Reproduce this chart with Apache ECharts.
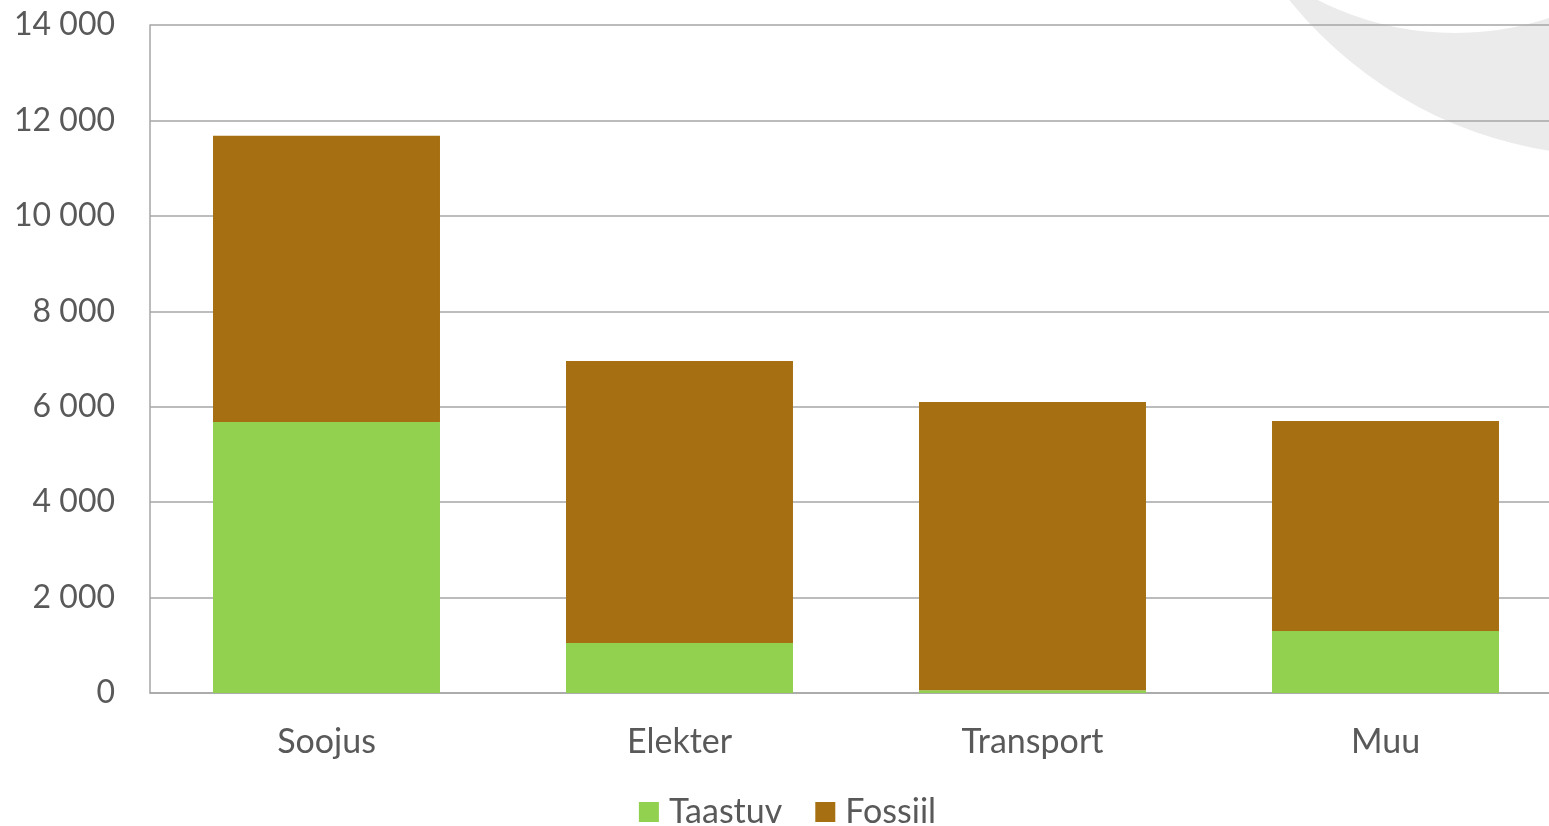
<!DOCTYPE html>
<html>
<head>
<meta charset="utf-8">
<script src="https://cdn.jsdelivr.net/npm/echarts@6/dist/echarts.min.js"></script>
<style>
  html, body { margin: 0; padding: 0; background: #ffffff; overflow: hidden; }
  /* the drawing surface runs a little past the right edge of the window */
  #chart { width: 1575px; height: 826px; }
</style>
</head>
<body>
<div id="chart"></div>
<script>
// Energy use by sector, split into renewable and fossil sources
const categories = ['Soojus', 'Elekter', 'Transport', 'Muu'];
const taastuv = [5680, 1050, 60, 1300];
const fossiil = [6000, 5910, 6040, 4400];
const seriesNames = ['Taastuv', 'Fossiil'];

const FONT = 'Lato, "Open Sans", sans-serif';
const TEXT = '#595959';

const chart = echarts.init(document.getElementById('chart'), null, { renderer: 'canvas' });

chart.setOption({
  backgroundColor: '#ffffff',
  animation: false,
  // decorative crescent in the top-right corner, behind the plot
  graphic: [
    {
      type: 'circle', z: -20, silent: true,
      shape: { cx: 1615, cy: -262, r: 418 },
      style: { fill: '#ebebeb' }
    },
    {
      type: 'circle', z: -19, silent: true,
      shape: { cx: 1455, cy: -269, r: 302 },
      style: { fill: '#ffffff' }
    }
  ],
  grid: { left: 150, right: 13, top: 25, bottom: 133, containLabel: false },
  legend: {
    data: seriesNames,
    top: 790,
    left: 'center',
    itemWidth: 20,
    itemHeight: 20,
    itemGap: 33,
    icon: 'rect',
    textStyle: { fontFamily: FONT, fontSize: 34, color: TEXT, padding: [0, 0, 0, 5] }
  },
  xAxis: {
    type: 'category',
    data: categories,
    axisLine: { lineStyle: { color: '#a6a6a6', width: 1.5 } },
    axisTick: { show: false },
    axisLabel: { fontFamily: FONT, fontSize: 34, color: TEXT, margin: 32 }
  },
  yAxis: {
    type: 'value',
    min: 0,
    max: 14000,
    interval: 2000,
    axisLine: { show: true, lineStyle: { color: '#a6a6a6', width: 1.5 } },
    axisTick: { show: false },
    splitLine: { lineStyle: { color: '#a6a6a6', width: 1.5 } },
    axisLabel: {
      fontFamily: FONT, fontSize: 32, color: TEXT, margin: 35,
      formatter: v => String(v).replace(/\B(?=(\d{3})+(?!\d))/g, ' ')
    }
  },
  series: [
    {
      name: seriesNames[0], type: 'bar', stack: 'total', data: taastuv,
      barWidth: '64.3%', itemStyle: { color: '#92d050' }
    },
    {
      name: seriesNames[1], type: 'bar', stack: 'total', data: fossiil,
      barWidth: '64.3%', itemStyle: { color: '#a67012' }
    }
  ]
});
</script>
</body>
</html>
